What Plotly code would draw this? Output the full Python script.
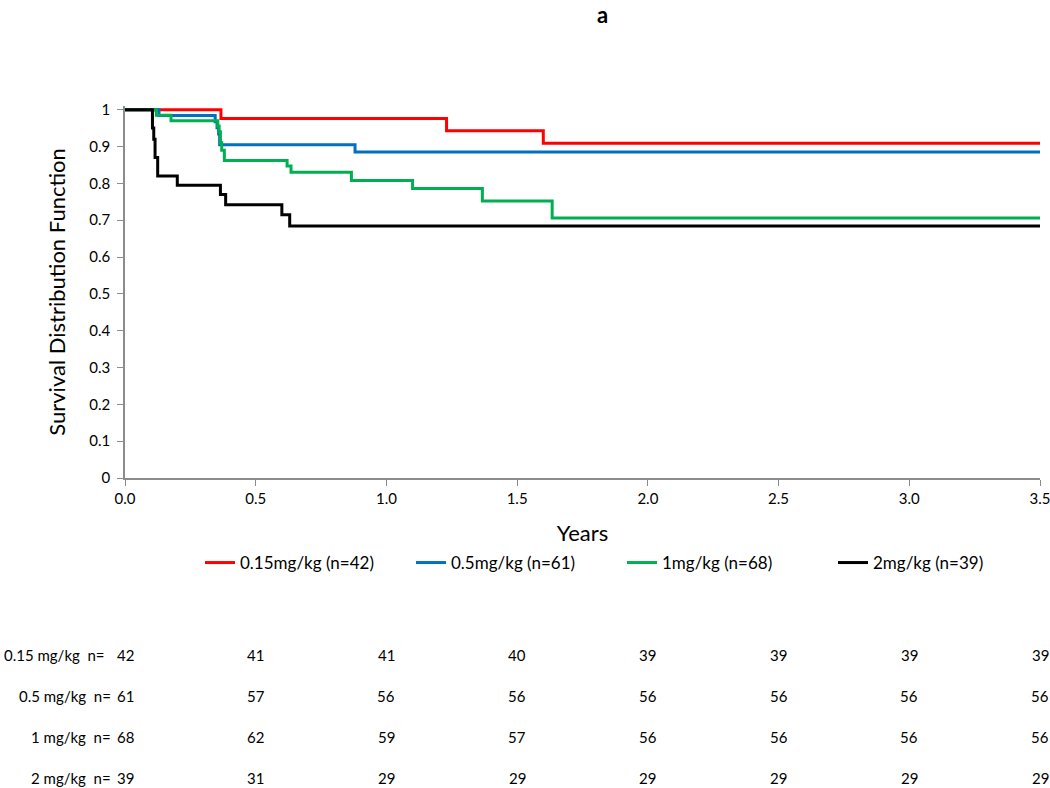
import plotly.graph_objects as go

# ---- data ----
t_015 = [0, 0.367, 1.23, 1.60, 3.5]
s_015 = [1.0, 0.976, 0.943, 0.909, 0.909]

t_05 = [0, 0.13, 0.345, 0.352, 0.358, 0.362, 0.88, 3.5]
s_05 = [1.0, 0.984, 0.967, 0.951, 0.934, 0.905, 0.885, 0.885]

t_1 = [0, 0.12, 0.176, 0.355, 0.36, 0.365, 0.37, 0.38, 0.62, 0.635, 0.866, 1.10, 1.367, 1.634, 3.5]
s_1 = [1.0, 0.985, 0.97, 0.956, 0.94, 0.91, 0.89, 0.862, 0.847, 0.83, 0.808, 0.786, 0.752, 0.706, 0.706]

t_2 = [0, 0.105, 0.11, 0.115, 0.125, 0.2, 0.365, 0.385, 0.6, 0.63, 3.5]
s_2 = [1.0, 0.95, 0.92, 0.87, 0.82, 0.795, 0.77, 0.742, 0.715, 0.684, 0.684]

series_names = ["0.15mg/kg (n=42)", "0.5mg/kg (n=61)", "1mg/kg (n=68)", "2mg/kg (n=39)"]
series_colors = ["#FF0000", "#0070C0", "#00B050", "#000000"]

risk_times = [0, 0.5, 1.0, 1.5, 2.0, 2.5, 3.0, 3.5]
risk_labels = ["0.15 mg/kg\u00a0\u00a0n=", "0.5 mg/kg\u00a0\u00a0n=", "1 mg/kg\u00a0\u00a0n=", "2 mg/kg\u00a0\u00a0n="]
risk_015 = [42, 41, 41, 40, 39, 39, 39, 39]
risk_05 = [61, 57, 56, 56, 56, 56, 56, 56]
risk_1 = [68, 62, 59, 57, 56, 56, 56, 56]
risk_2 = [39, 31, 29, 29, 29, 29, 29, 29]

y_tickvals = [0, 0.1, 0.2, 0.3, 0.4, 0.5, 0.6, 0.7, 0.8, 0.9, 1]
y_ticktext = ["0", "0.1", "0.2", "0.3", "0.4", "0.5", "0.6", "0.7", "0.8", "0.9", "1"]
x_tickvals = [0, 0.5, 1.0, 1.5, 2.0, 2.5, 3.0, 3.5]
x_ticktext = ["0.0", "0.5", "1.0", "1.5", "2.0", "2.5", "3.0", "3.5"]

# ---- layout geometry (pixels) ----
W, H = 1050, 788
L, R = 125, 10
T, B = 106, 310
PLOT_BOTTOM = H - B          # pixel of y=0
PLOT_H = H - T - B


def py(pix):
    return (PLOT_BOTTOM - pix) / PLOT_H


def pxc(pix):
    return (pix - L) / (W - L - R)


FONT = "Lato, Open Sans, sans-serif"

fig = go.Figure()
all_t = [t_015, t_05, t_1, t_2]
all_s = [s_015, s_05, s_1, s_2]
for t, s, name, col in zip(all_t, all_s, series_names, series_colors):
    fig.add_trace(go.Scatter(x=t, y=s, mode="lines", name=name,
                             line=dict(color=col, width=3, shape="hv")))

# risk table
row_pix = [655, 696, 737, 778]
label_end_pix = [107, 113, 113, 113]
all_risk = [risk_015, risk_05, risk_1, risk_2]
table_font = dict(family=FONT, size=15, color="#000")
for lab, vals, rp, le in zip(risk_labels, all_risk, row_pix, label_end_pix):
    fig.add_annotation(text=lab, xref="paper", yref="paper", x=pxc(le), y=py(rp),
                       xanchor="right", yanchor="middle", showarrow=False, font=table_font)
    for tx, v in zip(risk_times, vals):
        fig.add_annotation(text=str(v), xref="x", yref="paper", x=tx, y=py(rp),
                           xanchor="center", yanchor="middle", showarrow=False, font=table_font)

# title "a"
fig.add_annotation(text="<b>a</b>", xref="paper", yref="paper", x=pxc(602), y=py(14),
                   xanchor="center", yanchor="middle", showarrow=False,
                   font=dict(family=FONT, size=22, color="#000"))

fig.update_layout(
    width=W, height=H,
    margin=dict(l=L, r=R, t=T, b=B, autoexpand=False),
    plot_bgcolor="white", paper_bgcolor="white",
    showlegend=True,
    legend=dict(orientation="h", x=pxc(200), xanchor="left", y=py(563), yanchor="middle",
                font=dict(family=FONT, size=17, color="#000"),
                itemwidth=30, entrywidth=166, entrywidthmode="pixels",
                tracegroupgap=0, bgcolor="rgba(0,0,0,0)"),
    xaxis=dict(range=[0, 3.5], tickvals=x_tickvals, ticktext=x_ticktext,
               showgrid=False, zeroline=False, showline=True, linecolor="#8c8c8c", linewidth=1.5,
               ticks="outside", ticklen=6, tickcolor="#8c8c8c", ticklabeloverflow="allow",
               tickfont=dict(family=FONT, size=15, color="#000"),
               title=dict(text="Years", standoff=20,
                          font=dict(family=FONT, size=22, color="#000"))),
    yaxis=dict(range=[0, 1.01], tickvals=y_tickvals, ticktext=y_ticktext,
               showgrid=False, zeroline=False, showline=True, linecolor="#8c8c8c", linewidth=1.5,
               ticks="outside", ticklen=6, tickcolor="#8c8c8c", ticklabelstandoff=4,
               tickfont=dict(family=FONT, size=15, color="#000"),
               title=dict(text="Survival Distribution Function", standoff=18,
                          font=dict(family=FONT, size=22, color="#000"))),
)

fig.write_html("out.html", config={"displayModeBar": False},
               post_script="document.body.style.margin='0';document.body.style.overflow='hidden';")
